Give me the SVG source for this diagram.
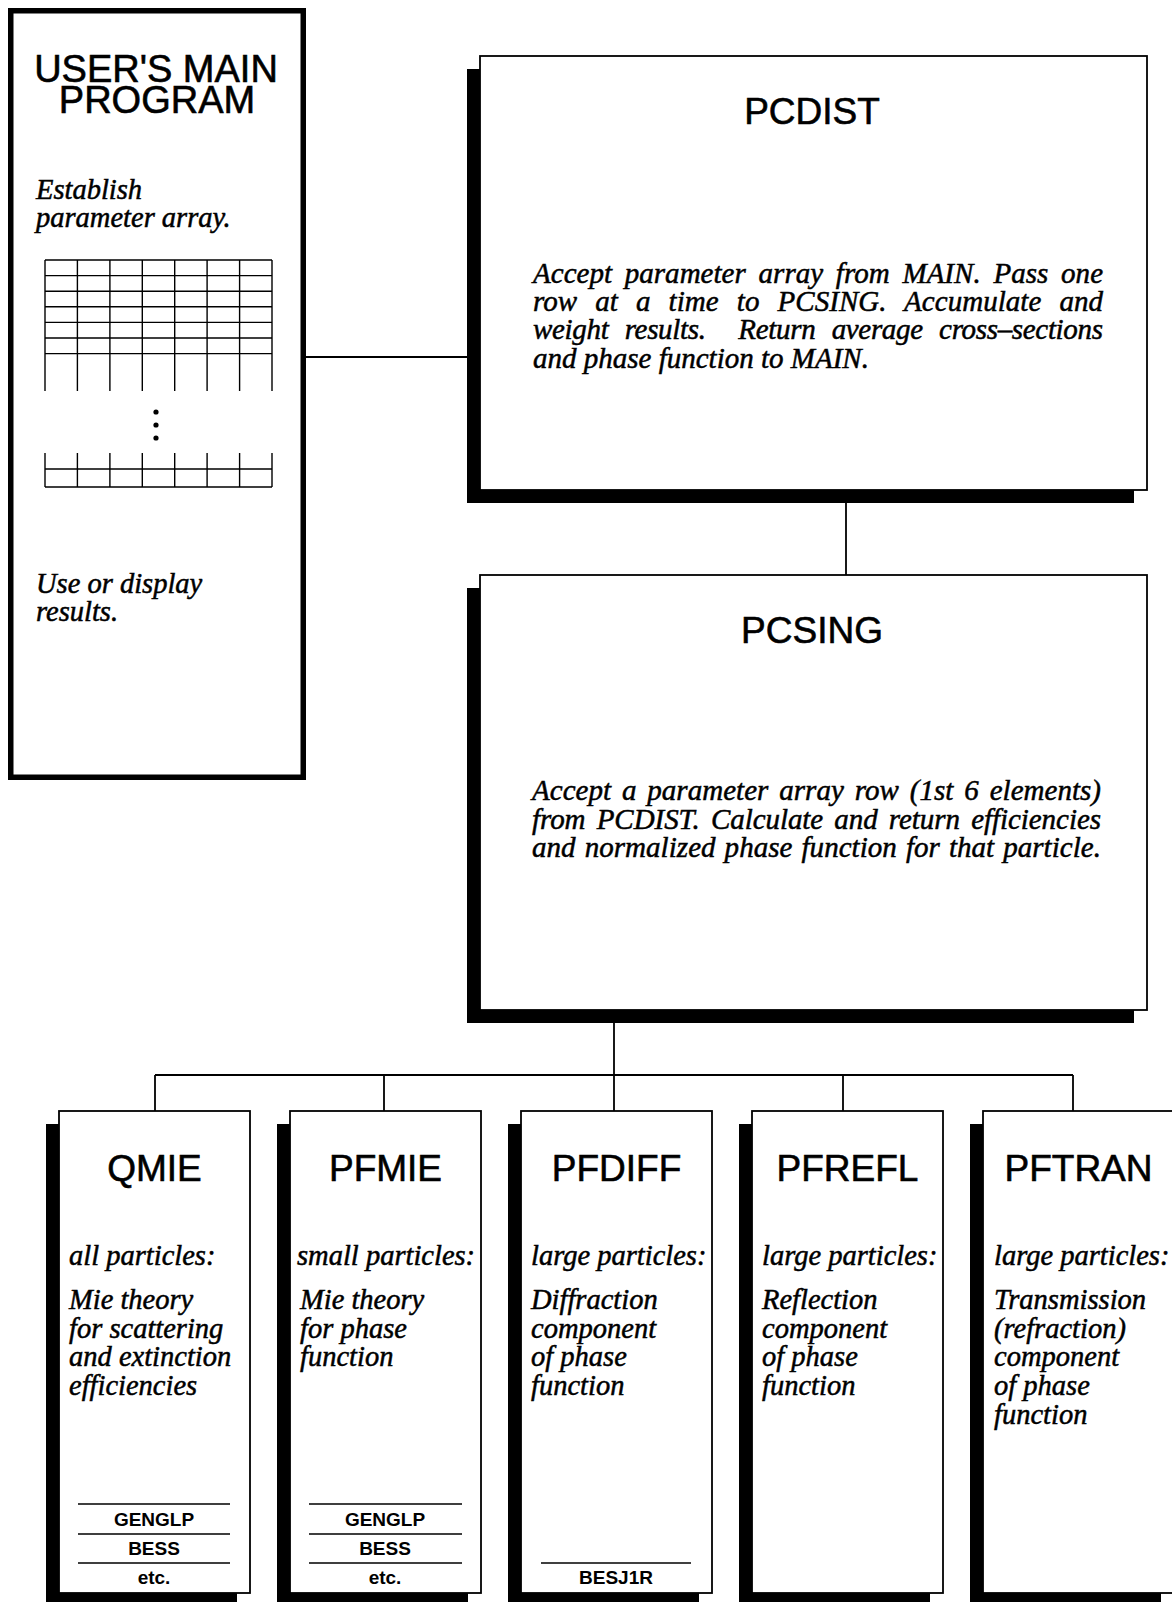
<svg xmlns="http://www.w3.org/2000/svg" width="1172" height="1602" viewBox="0 0 1172 1602">
<style>
.frame{fill:#fff;stroke:#000;stroke-width:1.8}
.shadow{fill:#000}
.conn{stroke:#000;stroke-width:1.8;fill:none}
.grid{stroke:#000;stroke-width:1.4;fill:none}
.rule{stroke:#000;stroke-width:1.6}
.title{font-family:"Liberation Sans",Arial,sans-serif;font-size:37px;text-anchor:middle;fill:#000;stroke:#000;stroke-width:0.6}
.desc{font-family:"Liberation Serif","Times New Roman",serif;font-style:italic;font-size:29px;fill:#000;stroke:#000;stroke-width:0.5}
.body{font-family:"Liberation Serif","Times New Roman",serif;font-style:italic;font-size:28.5px;fill:#000;stroke:#000;stroke-width:0.5}
.lbl{font-family:"Liberation Sans",Arial,sans-serif;font-weight:bold;font-size:19px;text-anchor:middle;fill:#000}
</style>
<rect width="1172" height="1602" fill="#fff"/>

<g id="connectors">
<path class="conn" d="M306 357H467"/>
<path class="conn" d="M846 503V575"/>
<path class="conn" d="M614 1023V1075"/>
<path class="conn" d="M155 1075H1073"/>
<path class="conn" d="M155 1075V1111M384 1075V1111M614 1075V1111M843 1075V1111M1073 1075V1111"/>
</g>

<g id="main">
<rect x="10.75" y="10.75" width="292.5" height="766.5" fill="#fff" stroke="#000" stroke-width="5.5"/>
<text class="title" x="156" y="82" style="font-size:38px">USER'S MAIN</text>
<text class="title" x="157" y="113" style="font-size:38px">PROGRAM</text>
<text class="body" x="36" y="199">Establish</text>
<text class="body" x="36" y="227">parameter array.</text>
<g class="grid">
<path d="M45 260H272M45 275.6H272M45 291.2H272M45 306.8H272M45 322.4H272M45 338H272M45 353.6H272"/>
<path d="M45 260V391M77.4 260V391M109.9 260V391M142.3 260V391M174.7 260V391M207.1 260V391M239.6 260V391M272 260V391"/>
<path d="M45 469H272M45 487H272"/>
<path d="M45 453V487M77.4 453V487M109.9 453V487M142.3 453V487M174.7 453V487M207.1 453V487M239.6 453V487M272 453V487"/>
</g>
<circle cx="156" cy="412" r="2.6"/>
<circle cx="156" cy="425" r="2.6"/>
<circle cx="156" cy="438" r="2.6"/>
<text class="body" x="36" y="593">Use or display</text>
<text class="body" x="36" y="621">results.</text>
</g>

<g id="pcdist">
<rect class="shadow" x="467" y="69" width="667" height="434"/>
<rect class="frame" x="480" y="56" width="667" height="434"/>
<text class="title" x="812" y="124">PCDIST</text>
<text class="desc" x="533" y="283" word-spacing="5.5" textLength="570" lengthAdjust="spacing">Accept parameter array from MAIN. Pass one</text>
<text class="desc" x="533" y="311" word-spacing="10.8" textLength="570" lengthAdjust="spacing">row at a time to PCSING. Accumulate and</text>
<text class="desc" x="533" y="339" word-spacing="9.4" textLength="570" lengthAdjust="spacing" xml:space="preserve">weight results.  Return average cross–sections</text>
<text class="desc" x="533" y="368">and phase function to MAIN.</text>
</g>

<g id="pcsing">
<rect class="shadow" x="467" y="588" width="667" height="435"/>
<rect class="frame" x="480" y="575" width="667" height="435"/>
<text class="title" x="812" y="643">PCSING</text>
<text class="desc" x="532" y="800" word-spacing="3.6" textLength="569" lengthAdjust="spacing">Accept a parameter array row (1st 6 elements)</text>
<text class="desc" x="532" y="829" word-spacing="4" textLength="569" lengthAdjust="spacing">from PCDIST. Calculate and return efficiencies</text>
<text class="desc" x="532" y="857" word-spacing="1.7" textLength="569" lengthAdjust="spacing">and normalized phase function for that particle.</text>
</g>

<g id="qmie">
<rect class="shadow" x="46" y="1124" width="191" height="482"/>
<rect class="frame" x="59" y="1111" width="191" height="482"/>
<text class="title" x="154.5" y="1181">QMIE</text>
<text class="body" x="69" y="1265">all particles:</text>
<text class="body" x="69" y="1309">Mie theory</text>
<text class="body" x="69" y="1338">for scattering</text>
<text class="body" x="69" y="1366">and extinction</text>
<text class="body" x="69" y="1395">efficiencies</text>
<path class="rule" d="M78 1504H230M78 1534H230M78 1563H230"/>
<text class="lbl" x="154" y="1526">GENGLP</text>
<text class="lbl" x="154" y="1555">BESS</text>
<text class="lbl" x="154" y="1584">etc.</text>
</g>

<g id="pfmie">
<rect class="shadow" x="277" y="1124" width="191" height="482"/>
<rect class="frame" x="290" y="1111" width="191" height="482"/>
<text class="title" x="385.5" y="1181">PFMIE</text>
<text class="body" x="297" y="1265">small particles:</text>
<text class="body" x="300" y="1309">Mie theory</text>
<text class="body" x="300" y="1338">for phase</text>
<text class="body" x="300" y="1366">function</text>
<path class="rule" d="M309 1504H462M309 1534H462M309 1563H462"/>
<text class="lbl" x="385" y="1526">GENGLP</text>
<text class="lbl" x="385" y="1555">BESS</text>
<text class="lbl" x="385" y="1584">etc.</text>
</g>

<g id="pfdiff">
<rect class="shadow" x="508" y="1124" width="191" height="482"/>
<rect class="frame" x="521" y="1111" width="191" height="482"/>
<text class="title" x="616.5" y="1181">PFDIFF</text>
<text class="body" x="531" y="1265">large particles:</text>
<text class="body" x="531" y="1309">Diffraction</text>
<text class="body" x="531" y="1338">component</text>
<text class="body" x="531" y="1366">of phase</text>
<text class="body" x="531" y="1395">function</text>
<path class="rule" d="M541 1563H691"/>
<text class="lbl" x="616" y="1584">BESJ1R</text>
</g>

<g id="pfrefl">
<rect class="shadow" x="739" y="1124" width="191" height="482"/>
<rect class="frame" x="752" y="1111" width="191" height="482"/>
<text class="title" x="847.5" y="1181">PFREFL</text>
<text class="body" x="762" y="1265">large particles:</text>
<text class="body" x="762" y="1309">Reflection</text>
<text class="body" x="762" y="1338">component</text>
<text class="body" x="762" y="1366">of phase</text>
<text class="body" x="762" y="1395">function</text>
</g>

<g id="pftran">
<rect class="shadow" x="970" y="1124" width="191" height="482"/>
<rect class="frame" x="983" y="1111" width="191" height="482"/>
<text class="title" x="1078.5" y="1181">PFTRAN</text>
<text class="body" x="994" y="1265">large particles:</text>
<text class="body" x="994" y="1309">Transmission</text>
<text class="body" x="994" y="1338">(refraction)</text>
<text class="body" x="994" y="1366">component</text>
<text class="body" x="994" y="1395">of phase</text>
<text class="body" x="994" y="1424">function</text>
</g>
</svg>
